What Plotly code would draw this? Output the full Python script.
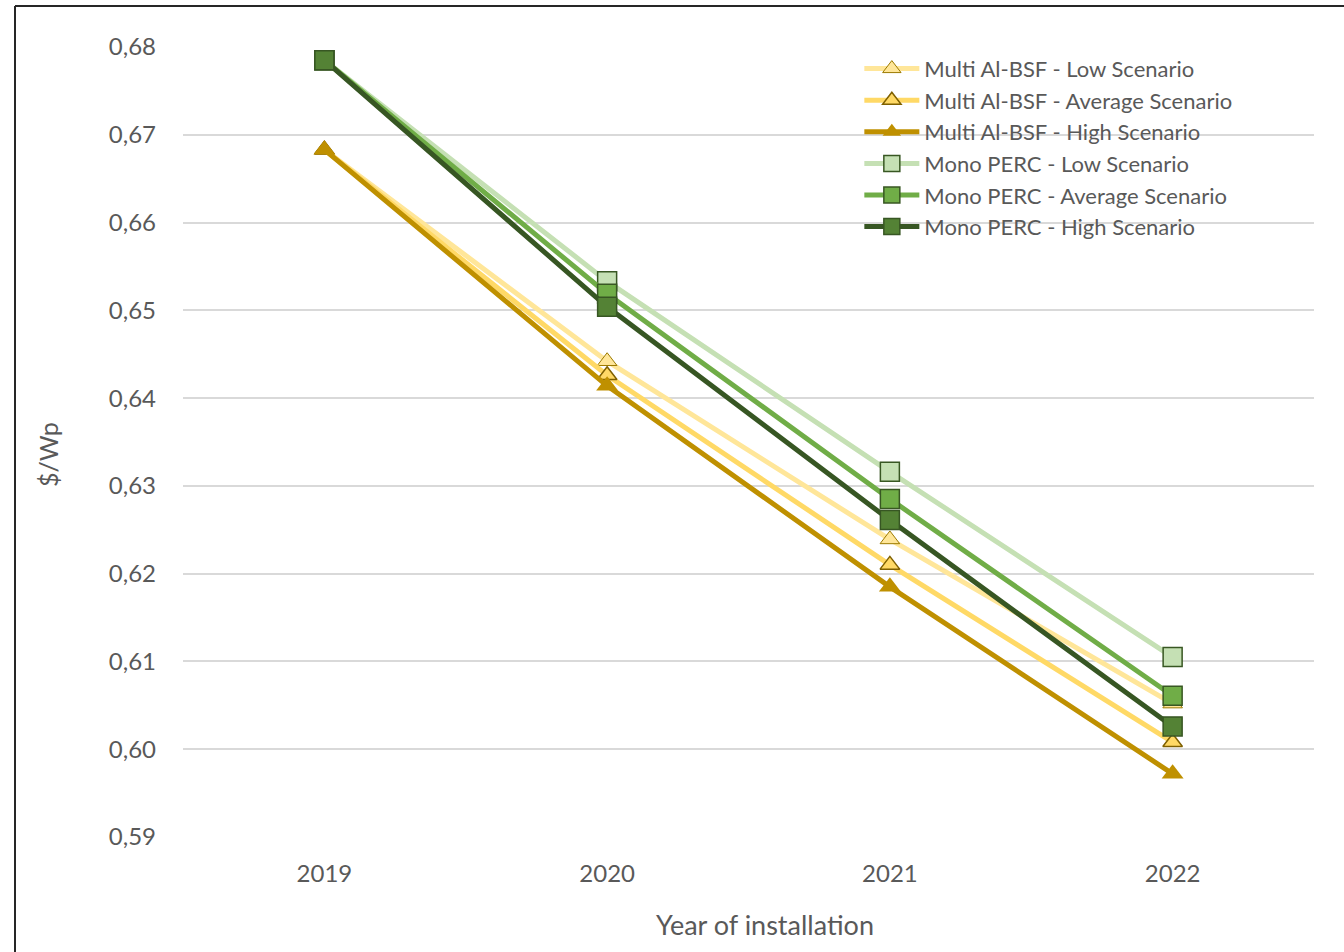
import plotly.graph_objects as go

years = ["2019", "2020", "2021", "2022"]

multi_low = [0.6683, 0.6442, 0.6239, 0.6052]
multi_avg = [0.6683, 0.6426, 0.6210, 0.6008]
multi_high = [0.6683, 0.6414, 0.6185, 0.5972]
mono_low = [0.6785, 0.6533, 0.6316, 0.6105]
mono_avg = [0.6785, 0.6519, 0.6285, 0.6061]
mono_high = [0.6785, 0.6504, 0.6261, 0.6026]

series = [
    ("Multi Al-BSF - Low Scenario", multi_low, "#FFE699", "triangle-up", "#FFE699", "#9C7A00", 1, 17),
    ("Multi Al-BSF - Average Scenario", multi_avg, "#FFD966", "triangle-up", "#FFD966", "#7F6000", 1.5, 17),
    ("Multi Al-BSF - High Scenario", multi_high, "#BF9000", "triangle-up", "#BF9000", "#BF9000", 0, 19),
    ("Mono PERC - Low Scenario", mono_low, "#C5E0B4", "square", "#C5E0B4", "#385723", 1.5, 19),
    ("Mono PERC - Average Scenario", mono_avg, "#70AD47", "square", "#70AD47", "#385723", 1.5, 19),
    ("Mono PERC - High Scenario", mono_high, "#375623", "square", "#548235", "#375623", 1.5, 19),
]

fig = go.Figure()
for name, vals, lc, sym, fc, oc, ow, ms in series:
    fig.add_trace(go.Scatter(
        x=years, y=vals, name=name, mode="lines+markers",
        line=dict(color=lc, width=5),
        marker=dict(symbol=sym, size=ms, color=fc, line=dict(color=oc, width=ow)),
    ))

font = "Lato, 'Open Sans', sans-serif"
grey = "#595959"

fig.update_layout(
    width=1344, height=952,
    margin=dict(l=183, r=30, t=47, b=115),
    paper_bgcolor="white", plot_bgcolor="white",
    separators=", ",
    font=dict(family=font, color=grey, size=24),
    showlegend=True,
    legend=dict(
        x=0.598, y=0.999, xanchor="left", yanchor="top",
        bgcolor="rgba(0,0,0,0)", font=dict(size=22, color=grey),
        tracegroupgap=0, itemwidth=55,
    ),
    xaxis=dict(
        type="category", range=[-0.5, 3.5],
        showgrid=False, zeroline=False, showline=False,
        ticks="", ticklabelstandoff=20, tickfont=dict(size=24, color=grey),
    ),
    yaxis=dict(
        range=[0.59, 0.68], dtick=0.01, tick0=0.59, tickformat=".2f",
        showgrid=True, gridcolor="#D9D9D9", gridwidth=1.5,
        zeroline=False, showline=False, ticks="",
        ticklabelstandoff=26, tickfont=dict(size=24, color=grey),
    ),
    annotations=[
        dict(text="Year of installation", xref="paper", yref="paper",
             x=(765 - 183) / 1131, y=-(925 - 837) / 790, xanchor="center", yanchor="middle",
             showarrow=False, font=dict(size=27, color=grey)),
        dict(text="$/Wp", xref="paper", yref="paper", textangle=-90,
             x=-(183 - 48) / 1131, y=(837 - 455) / 790, xanchor="center", yanchor="middle",
             showarrow=False, font=dict(size=25, color=grey)),
    ],
    shapes=[
        dict(type="line", xref="paper", yref="paper",
             x0=-(183 - 15) / 1131, x1=-(183 - 15) / 1131, y0=(837 - 6) / 790, y1=-(952 - 837) / 790 - 0.01,
             line=dict(color="#262626", width=2)),
        dict(type="line", xref="paper", yref="paper",
             x0=-(183 - 15) / 1131, x1=(1344 - 183) / 1131 + 0.01, y0=(837 - 6) / 790, y1=(837 - 6) / 790,
             line=dict(color="#262626", width=2)),
    ],
)

fig.write_html("out.html")
